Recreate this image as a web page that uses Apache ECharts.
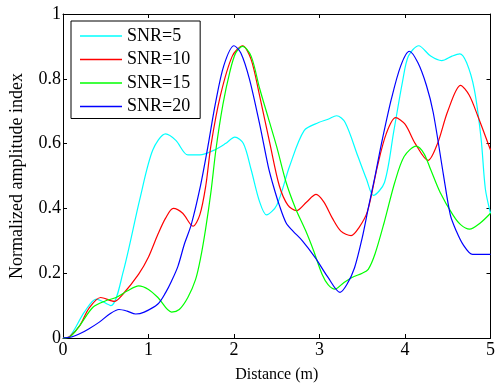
<!DOCTYPE html>
<html><head><meta charset="utf-8">
<script src="https://cdn.jsdelivr.net/npm/echarts@6/dist/echarts.min.js"></script>
<style>html,body{margin:0;padding:0;background:#fff}#c{width:498px;height:388px}</style>
</head><body><div id="c"></div>
<script>
const seriesNames = ['SNR=5', 'SNR=10', 'SNR=15', 'SNR=20'];
const xTicks = [0, 1, 2, 3, 4, 5];
const yTicks = [0, 0.2, 0.4, 0.6, 0.8, 1];

const snr5X = [0,0.08,0.25,0.39,0.56,0.7,0.9,1.05,1.2,1.32,1.46,1.6,1.77,1.9,2.01,2.11,2.2,2.3,2.38,2.5,2.65,2.82,2.99,3.1,3.2,3.3,3.45,3.55,3.63,3.76,3.87,3.97,4.04,4.16,4.3,4.43,4.55,4.64,4.72,4.81,4.89,4.94,5];
const snr5Y = [0,0.005,0.08,0.12,0.10,0.2,0.43,0.58,0.63,0.61,0.565,0.565,0.58,0.6,0.62,0.6,0.52,0.42,0.38,0.41,0.53,0.64,0.665,0.675,0.686,0.665,0.56,0.49,0.44,0.48,0.64,0.79,0.87,0.902,0.87,0.856,0.87,0.877,0.85,0.768,0.615,0.46,0.385];

const snr10X = [0,0.08,0.2,0.3,0.44,0.6,0.7,0.885,1.0,1.11,1.2,1.29,1.4,1.52,1.6,1.67,1.73,1.84,1.98,2.1,2.2,2.3,2.42,2.53,2.63,2.73,2.85,2.96,3.05,3.15,3.25,3.37,3.46,3.56,3.68,3.78,3.89,4.0,4.12,4.27,4.38,4.5,4.65,4.75,4.85,5];
const snr10Y = [0,0.005,0.04,0.09,0.125,0.113,0.135,0.197,0.25,0.32,0.37,0.40,0.385,0.345,0.38,0.47,0.594,0.747,0.87,0.902,0.86,0.747,0.6,0.47,0.41,0.393,0.42,0.443,0.42,0.37,0.33,0.316,0.34,0.39,0.533,0.63,0.68,0.66,0.6,0.548,0.6,0.7,0.78,0.75,0.686,0.58];

const snr15X = [0,0.08,0.2,0.35,0.5,0.62,0.75,0.885,1.0,1.11,1.27,1.36,1.46,1.55,1.61,1.67,1.73,1.79,1.87,1.95,2.02,2.1,2.2,2.3,2.4,2.5,2.61,2.72,2.84,2.93,3.03,3.1,3.18,3.28,3.38,3.5,3.57,3.65,3.76,3.88,3.99,4.13,4.22,4.3,4.41,4.56,4.65,4.755,4.88,5];
const snr15Y = [0,0.003,0.04,0.095,0.115,0.125,0.145,0.161,0.15,0.125,0.08,0.088,0.125,0.18,0.248,0.34,0.45,0.584,0.72,0.82,0.88,0.9,0.87,0.77,0.68,0.59,0.48,0.4,0.33,0.27,0.197,0.165,0.151,0.17,0.187,0.2,0.212,0.26,0.36,0.48,0.56,0.592,0.57,0.52,0.45,0.38,0.35,0.336,0.355,0.385];

const snr20X = [0,0.1,0.195,0.3,0.425,0.55,0.655,0.75,0.85,0.95,1.11,1.2,1.27,1.345,1.42,1.5,1.6,1.69,1.78,1.88,2.0,2.08,2.18,2.3,2.4,2.46,2.53,2.61,2.69,2.8,2.95,3.1,3.24,3.32,3.41,3.5,3.57,3.65,3.72,3.84,3.95,4.05,4.15,4.25,4.33,4.45,4.53,4.6,4.68,4.79,5];
const snr20Y = [0,0.003,0.013,0.028,0.049,0.075,0.088,0.083,0.074,0.08,0.105,0.14,0.176,0.222,0.29,0.35,0.46,0.584,0.72,0.84,0.902,0.88,0.8,0.66,0.53,0.47,0.41,0.355,0.33,0.3,0.248,0.187,0.141,0.165,0.217,0.31,0.40,0.5,0.594,0.737,0.84,0.885,0.85,0.78,0.696,0.503,0.38,0.33,0.288,0.258,0.258];

const colors = ['#00ffff', '#ff0000', '#00ff00', '#0000ff'];
const xsAll = [snr5X, snr10X, snr15X, snr20X];
const ysAll = [snr5Y, snr10Y, snr15Y, snr20Y];

const font = 'Liberation Serif, Times New Roman, serif';
const chart = echarts.init(document.getElementById('c'));
const baseAxis = {
  min: 0, splitLine: {show: false},
  axisLine: {show: true, onZero: false, lineStyle: {color: '#000', width: 1}},
  axisTick: {show: true, inside: true, length: 4, lineStyle: {color: '#000'}}
};
chart.setOption({
  animation: false,
  backgroundColor: '#fff',
  grid: {left: 63, right: 1, top: 14, bottom: 47, show: false},
  legend: {
    data: seriesNames, orient: 'vertical', left: 71, top: 21,
    icon: 'rect', itemWidth: 42, itemHeight: 1.3, itemGap: 5.5,
    padding: [6, 10, 3, 9],
    backgroundColor: '#fff', borderColor: '#000', borderWidth: 1, borderRadius: 0,
    textStyle: {fontFamily: font, fontSize: 18, color: '#000', lineHeight: 18, padding: [0, 0, 0, 0]}
  },
  xAxis: [
    Object.assign({}, baseAxis, {type: 'value', max: 5, interval: 1, position: 'bottom',
      name: 'Distance (m)', nameLocation: 'middle', nameGap: 29,
      nameTextStyle: {fontFamily: font, fontSize: 16, color: '#000'},
      axisLabel: {fontFamily: font, fontSize: 18, color: '#000', margin: 3,
        formatter: v => xTicks.includes(v) ? String(v) : ''}}),
    Object.assign({}, baseAxis, {type: 'value', max: 5, interval: 1, position: 'top', axisLabel: {show: false}})
  ],
  yAxis: [
    Object.assign({}, baseAxis, {type: 'value', max: 1, interval: 0.2, position: 'left',
      name: 'Normalized amplitude index', nameLocation: 'middle', nameGap: 37,
      nameTextStyle: {fontFamily: font, fontSize: 18, color: '#000'},
      axisLabel: {fontFamily: font, fontSize: 18, color: '#000', margin: 2,
        formatter: v => { const t = yTicks.find(k => Math.abs(k - v) < 1e-9); return t === undefined ? '' : String(t); }}}),
    Object.assign({}, baseAxis, {type: 'value', max: 1, interval: 0.2, position: 'right', axisLabel: {show: false}})
  ],
  series: seriesNames.map((n, i) => ({
    name: n, type: 'line', symbol: 'none', smooth: 0.3,
    color: colors[i], lineStyle: {width: 1.2, color: colors[i]},
    data: xsAll[i].map((x, j) => [x, ysAll[i][j]])
  }))
});
</script></body></html>
